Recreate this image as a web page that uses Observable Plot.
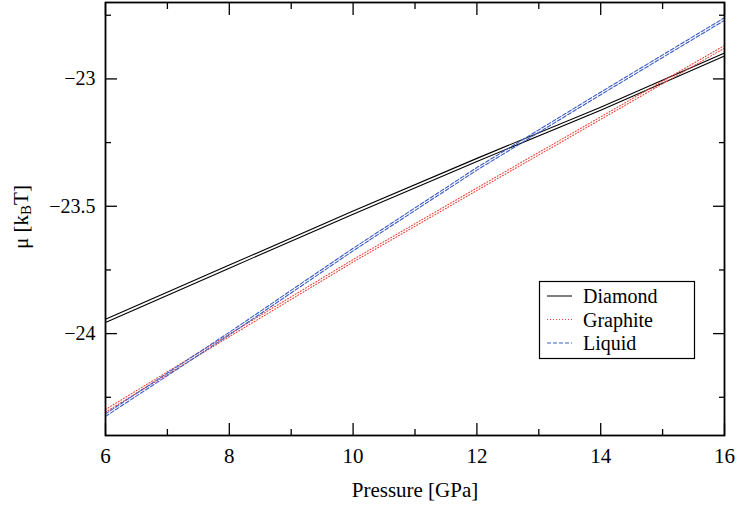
<!DOCTYPE html>
<html><head><meta charset="utf-8">
<script src="https://cdn.jsdelivr.net/npm/d3@7"></script>
<script src="https://cdn.jsdelivr.net/npm/@observablehq/plot@0.6"></script>
<style>body{margin:0;background:#fff}</style>
</head><body><div id="chart"></div>
<script>
// Data (two runs per phase)
const pressure = [6, 8, 10, 12, 14, 16];
const diamond1 = [-23.944, -23.731, -23.519, -23.312, -23.111, -22.898];
const diamond2 = [-23.956, -23.743, -23.531, -23.324, -23.123, -22.910];
const graphite1 = [-24.298, -24.002, -23.709, -23.428, -23.149, -22.869];
const graphite2 = [-24.308, -24.012, -23.719, -23.438, -23.159, -22.879];
const liquid1 = [-24.315, -23.995, -23.665, -23.348, -23.052, -22.760];
const liquid2 = [-24.325, -24.005, -23.675, -23.358, -23.062, -22.770];

const seriesNames = ["Diamond", "Graphite", "Liquid"];
const seriesColors = ["#000000", "#e8453c", "#3b5cc4"];
const seriesDash = [null, "1,2", "4,2"];

const xMajor = [6, 8, 10, 12, 14, 16];
const xMinor = [7, 9, 11, 13, 15];
const yMajor = [-23, -23.5, -24];
const yMinor = [-22.75, -23.25, -23.75, -24.25];

const runs = [[diamond1, diamond2], [graphite1, graphite2], [liquid1, liquid2]];
const rows = [];
runs.forEach((pair, s) => pair.forEach((vals, r) => vals.forEach((v, i) =>
  rows.push({P: pressure[i], mu: v, series: seriesNames[s], run: seriesNames[s] + r}))));

const font = "Liberation Serif, Tinos, Times New Roman, Noto Serif, DejaVu Serif, serif";
const fmt = d => String(d).replace("-", "\u2212");

const lineMarks = seriesNames.map((name, s) =>
  Plot.lineY(rows.filter(d => d.series === name), {
    x: "P", y: "mu", z: "run", stroke: seriesColors[s], strokeWidth: 1.1,
    strokeDasharray: seriesDash[s] || undefined
  }));

const svg = Plot.plot({
  width: 738, height: 507,
  marginLeft: 105, marginRight: 14, marginTop: 2, marginBottom: 72,
  style: {fontFamily: font, fontSize: "20px", background: "#fff", color: "#000"},
  x: {domain: [6, 16]},
  y: {domain: [-24.4, -22.7]},
  marks: [
    ...lineMarks,
    Plot.axisX({ticks: xMajor, tickSize: -12, tickPadding: 25, tickFormat: fmt, strokeWidth: 1.3,
      label: "Pressure [GPa]", labelAnchor: "center", labelArrow: "none", labelOffset: 61, fontSize: 21}),
    Plot.axisX({ticks: xMinor, tickSize: -6, fill: "none", strokeWidth: 1.3, label: null}),
    Plot.axisX({anchor: "top", ticks: xMajor, tickSize: -12, fill: "none", strokeWidth: 1.3, label: null}),
    Plot.axisX({anchor: "top", ticks: xMinor, tickSize: -6, fill: "none", strokeWidth: 1.3, label: null}),
    Plot.axisY({ticks: yMajor, tickSize: -12, tickPadding: 22, tickFormat: fmt, strokeWidth: 1.3, label: null}),
    Plot.axisY({ticks: yMinor, tickSize: -6, fill: "none", strokeWidth: 1.3, label: null}),
    Plot.axisY({anchor: "right", ticks: yMajor, tickSize: -12, fill: "none", strokeWidth: 1.3, label: null}),
    Plot.axisY({anchor: "right", ticks: yMinor, tickSize: -6, fill: "none", strokeWidth: 1.3, label: null}),
    Plot.frame({stroke: "#000", strokeWidth: 1.8})
  ]
});
document.getElementById("chart").appendChild(svg);

// y-axis label with subscript
const s = d3.select(svg);
const yl = s.append("text")
  .attr("transform", "translate(21,217) rotate(-90)")
  .attr("text-anchor", "middle")
  .attr("dominant-baseline", "central")
  .attr("font-family", font).attr("font-size", 21).attr("fill", "#000");
yl.append("tspan").text("\u03bc [k");
yl.append("tspan").attr("dy", 5).attr("font-size", 15).text("B");
yl.append("tspan").attr("dy", -5).text("T]");

// legend
const lg = s.append("g");
lg.append("rect").attr("x", 539.5).attr("y", 281.5).attr("width", 155).attr("height", 77)
  .attr("fill", "#fff").attr("stroke", "#000").attr("stroke-width", 1.2);
seriesNames.forEach((name, i) => {
  const y = 296 + i * 23.5;
  lg.append("line").attr("x1", 547).attr("x2", 572).attr("y1", y).attr("y2", y)
    .attr("stroke", seriesColors[i]).attr("stroke-width", 1)
    .attr("stroke-dasharray", seriesDash[i]);
  lg.append("text").attr("x", 583).attr("y", y).attr("dominant-baseline", "central")
    .attr("text-anchor", "start")
    .attr("font-family", font).attr("font-size", 20).attr("fill", "#000").text(name);
});
</script>
</body></html>
